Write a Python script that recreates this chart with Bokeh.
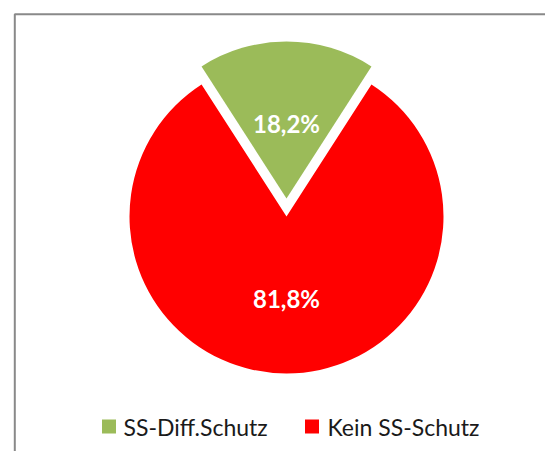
import math
from bokeh.plotting import figure
from bokeh.models import Range1d, ColumnDataSource
from bokeh.core.properties import value
from bokeh.embed import file_html
from bokeh.resources import INLINE

# ---- data ----
categories = ["SS-Diff.Schutz", "Kein SS-Schutz"]
shares = [18.2, 81.8]
labels = ["18,2%", "81,8%"]
colors = ["#9BBB59", "#FF0000"]

# ---- layout (pixel-like data units; y up) ----
W, H = 545, 451
p = figure(width=W, height=H, output_backend="svg", toolbar_location=None,
           x_range=Range1d(0, W), y_range=Range1d(0, H),
           min_border=0, outline_line_color=None)
p.axis.visible = False
p.grid.visible = False
p.background_fill_color = "white"
p.border_fill_color = "white"

cx, cy, r = 286, H - 216, 157
explode = [18, 0]

total = sum(shares)
start = math.pi / 2 - shares[0] / total * math.pi
wx, wy, sa, ea, lx, ly = [], [], [], [], [], []
a = start
for i, s in enumerate(shares):
    span = s / total * 2 * math.pi
    mid = a + span / 2
    ox = cx + explode[i] * math.cos(mid)
    oy = cy + explode[i] * math.sin(mid)
    wx.append(ox); wy.append(oy); sa.append(a); ea.append(a + span)
    frac = 0.48 if i == 0 else 0.52
    lx.append(ox + frac * r * math.cos(mid))
    ly.append(oy + frac * r * math.sin(mid))
    a += span

src = ColumnDataSource(dict(x=wx, y=wy, sa=sa, ea=ea, color=colors,
                            lx=lx, ly=ly, label=labels))
p.wedge(x="x", y="y", radius=r, start_angle="sa", end_angle="ea",
        fill_color="color", line_color=None, source=src)
p.text(x="lx", y="ly", text="label", source=src, text_color="white",
       text_font=value("Lato"), text_font_style="bold", text_font_size="24px",
       text_align="center", text_baseline="middle")

# chart border (extends beyond the window on right/bottom)
p.line(x=[14.3, 14.3, 600], y=[-20, H - 13.7, H - 13.7], line_color="#898989",
       line_width=2)

# legend
leg_sq_x = [108.5, 311.5]
leg_tx = [123, 327]
leg_y = H - 426
p.rect(x=leg_sq_x, y=[leg_y] * 2, width=14, height=14, fill_color=colors,
       line_color=None)
p.text(x=leg_tx, y=[leg_y] * 2, text=categories, text_color="#1a1a1a",
       text_font=value("Lato"), text_font_size="23px",
       text_align="left", text_baseline="middle")

open("out.html", "w").write(file_html(p, INLINE))
